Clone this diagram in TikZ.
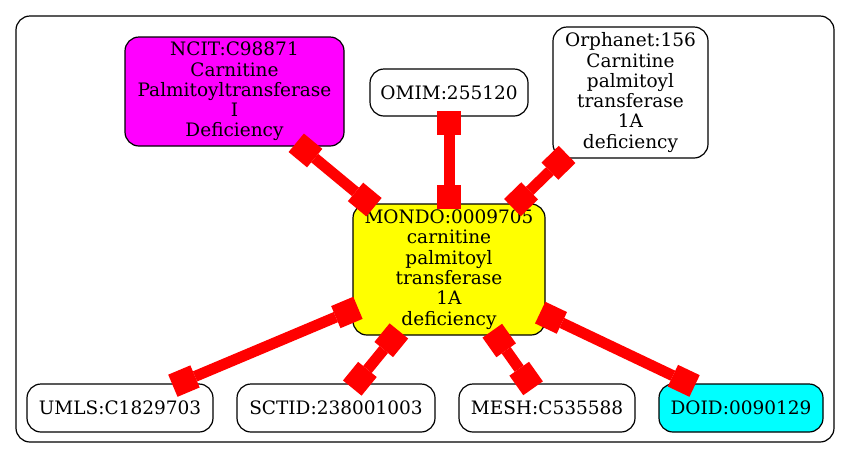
\documentclass[tikz,border=0pt]{standalone}
\usepackage{fontspec}
\setmainfont{DejaVu Serif}
\usetikzlibrary{arrows.meta}

\definecolor{ncitfill}{RGB}{255,0,255}
\definecolor{mondofill}{RGB}{255,255,0}
\definecolor{doidfill}{RGB}{0,255,255}
\definecolor{linkred}{RGB}{255,0,0}

\newcommand{\termfont}{\fontsize{18.5}{20.3}\selectfont}
\tikzset{term/.style={draw,line width=1.2pt,rounded corners=14pt,align=center,inner sep=0pt,font=\termfont}}
\tikzset{link/.style={draw=linkred,line width=11pt,{Square[length=24pt,width=24pt,line width=0pt]}-{Square[length=24pt,width=24pt,line width=0pt]},shorten <=-6pt,shorten >=-6pt}}

\begin{document}
\begin{tikzpicture}[x=1pt,y=-1pt]
        \useasboundingbox (0,0) rectangle (851,459);
        % draw the cluster frame
        \draw[line width=1.2pt,rounded corners=14pt] (16,16) rectangle (834,442);
        % draw the terms (top row)
        \node[term,fill=ncitfill,minimum width=219pt,minimum height=109pt] (ncit) at (234.5,91.5) {NCIT:C98871\\Carnitine\\Palmitoyltransferase\\I\\Deficiency};
        \node[term,minimum width=158pt,minimum height=47pt] (omim) at (449,92.5) {OMIM:255120};
        \node[term,minimum width=155pt,minimum height=131pt] (orpha) at (630.5,92.5) {Orphanet:156\\Carnitine\\palmitoyl\\transferase\\1A\\deficiency};
        % the central term
        \node[term,fill=mondofill,minimum width=192pt,minimum height=131pt] (mondo) at (449,269.5) {MONDO:0009705\\carnitine\\palmitoyl\\transferase\\1A\\deficiency};
        % draw the terms (bottom row)
        \node[term,minimum width=186pt,minimum height=48pt] (umls) at (120,408) {UMLS:C1829703};
        \node[term,minimum width=198pt,minimum height=48pt] (sctid) at (336,408) {SCTID:238001003};
        \node[term,minimum width=176pt,minimum height=48pt] (mesh) at (547,408) {MESH:C535588};
        \node[term,fill=doidfill,minimum width=164pt,minimum height=48pt] (doid) at (741,408) {DOID:0090129};
        
        % draw the links
        \draw[link] (ncit) -- (mondo);
        \draw[link] (omim) -- (mondo);
        \draw[link] (orpha) -- (mondo);
        \draw[link] (mondo) -- (umls);
        \draw[link] (mondo) -- (sctid);
        \draw[link] (mondo) -- (mesh);
        \draw[link] (mondo) -- (doid);
    \end{tikzpicture}
\end{document}
